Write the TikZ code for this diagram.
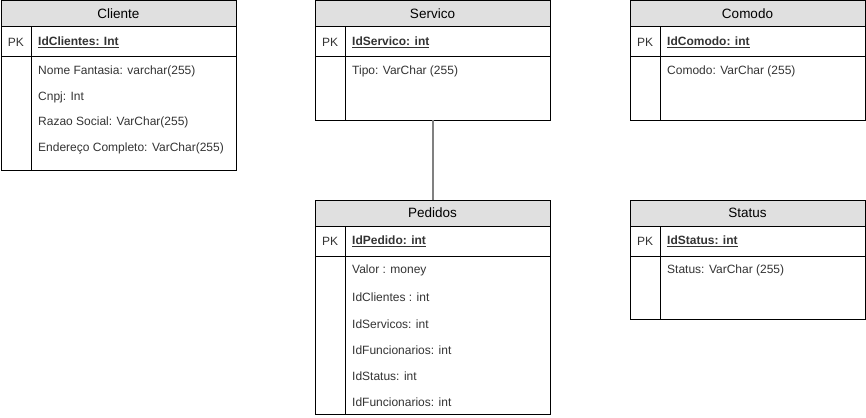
\documentclass[tikz,border=0pt]{standalone}
\usepackage{fontspec}
\setmainfont{Liberation Sans}
\definecolor{hdrgray}{HTML}{E0E0E0}
\definecolor{txtgray}{HTML}{333333}
\definecolor{linkgray}{HTML}{808080}
\tikzset{
  x=1pt, y=1pt,
  tblbox/.style={draw=black, line width=1pt, minimum width=235pt, inner sep=0pt, outer sep=0pt, anchor=north west},
  hdrbox/.style={draw=black, fill=hdrgray, line width=1pt, minimum width=235pt, minimum height=26pt, inner sep=0pt, outer sep=0pt, anchor=north west, font=\fontsize{13.5}{15}\selectfont},
  pktext/.style={inner sep=0pt, font=\fontsize{12}{14}\selectfont, text=txtgray},
  keytext/.style={inner sep=0pt, anchor=west, font=\fontsize{12}{14}\selectfont\bfseries, text=txtgray},
  fieldtext/.style={inner sep=0pt, anchor=west, font=\fontsize{12}{14}\selectfont, text=txtgray},
  rule/.style={draw=black, line width=1pt},
  link/.style={draw=linkgray, line width=2pt}
}
\newcommand{\ertable}[6]{% name, x, y(top, px), height, title, key
  \node[tblbox, minimum height=#4pt] (#1) at (#2,-#3) {};
  \node[hdrbox] (#1-h) at (#2,-#3) {#5};
  \draw[rule] ($(#1.north west)+(0,-56)$) -- ($(#1.north east)+(0,-56)$);
  \draw[rule] ($(#1-h.south west)+(30,0)$) -- ($(#1.south west)+(30,0)$);
  \node[pktext] (#1-pk) at ($(#1.north west)+(15,-41)$) {PK};
  \node[keytext] (#1-key) at ($(#1.north west)+(37,-41)$) {\underline{#6}};
}
\usetikzlibrary{calc}
\begin{document}
\begin{tikzpicture}
\useasboundingbox (0,0) rectangle (866,-417);
\ertable{cli}{1}{1}{169}{Cliente}{IdClientes: Int}
\node[fieldtext] (cli-f1) at ($(cli.north west)+(37,-70)$) {Nome Fantasia: varchar(255)};
\node[fieldtext] (cli-f2) at ($(cli.north west)+(37,-96)$) {Cnpj: Int};
\node[fieldtext] (cli-f3) at ($(cli.north west)+(37,-121)$) {Razao Social: VarChar(255)};
\node[fieldtext] (cli-f4) at ($(cli.north west)+(37,-147)$) {Endereço Completo: VarChar(255)};

\ertable{serv}{315}{1}{119}{Servico}{IdServico: int}
\node[fieldtext] (serv-f1) at ($(serv.north west)+(37,-70)$) {Tipo: VarChar (255)};

\ertable{com}{630}{1}{119}{Comodo}{IdComodo: int}
\node[fieldtext] (com-f1) at ($(com.north west)+(37,-70)$) {Comodo: VarChar (255)};

\ertable{ped}{315}{200}{214}{Pedidos}{IdPedido: int}
\node[fieldtext] (ped-f1) at ($(ped.north west)+(37,-70)$) {Valor : money};
\node[fieldtext] (ped-f2) at ($(ped.north west)+(37,-97)$) {IdClientes : int};
\node[fieldtext] (ped-f3) at ($(ped.north west)+(37,-124)$) {IdServicos: int};
\node[fieldtext] (ped-f4) at ($(ped.north west)+(37,-150)$) {IdFuncionarios: int};
\node[fieldtext] (ped-f5) at ($(ped.north west)+(37,-176)$) {IdStatus: int};
\node[fieldtext] (ped-f6) at ($(ped.north west)+(37,-202)$) {IdFuncionarios: int};

\ertable{sta}{630}{200}{119}{Status}{IdStatus: int}
\node[fieldtext] (sta-f1) at ($(sta.north west)+(37,-70)$) {Status: VarChar (255)};

\draw[link] (serv.south) -- (ped-h.north);
\end{tikzpicture}
\end{document}
